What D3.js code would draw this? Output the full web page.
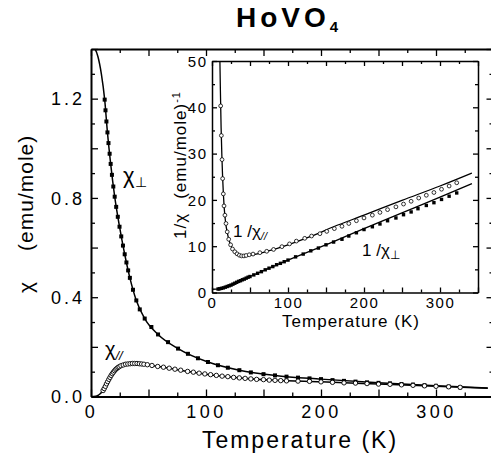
<!DOCTYPE html>
<html>
<head>
<meta charset="utf-8">
<script src="https://cdn.jsdelivr.net/npm/d3@7"></script>
<style>
  body { margin: 0; background: #fff; }
  svg { display: block; font-family: "Liberation Sans", Arial, sans-serif; }
</style>
</head>
<body>
<div id="container"></div>
<script>
/* DATA */
// chi_perp (filled squares), main panel
const perpT   = [11.9,12.6,13.4,14.3,15.2,16.2,17.1,18.2,19.4,20.6,21.9,23.3,24.8,26.3,27.8,29.3,30.8,32.3,33.8,36.5,39.4,42.4,46.7,52.5,58.3,67,75.7,84.3,93,101.7,110.4,119,129,139,150,160,170,180,190,200,210,220,230,240,250,260,270,280,290,300,311,321];
const perpChi = [1.196,1.153,1.108,1.064,1.021,0.978,0.937,0.893,0.846,0.805,0.764,0.724,0.684,0.645,0.608,0.573,0.540,0.508,0.478,0.430,0.387,0.351,0.314,0.280,0.250,0.219,0.193,0.172,0.154,0.139,0.126,0.116,0.106,0.097,0.090,0.085,0.080,0.076,0.073,0.070,0.066,0.063,0.060,0.057,0.055,0.053,0.050,0.048,0.045,0.043,0.040,0.037];
// fitted curve through chi_perp
const perpFitT   = [0,3,6,9,11.9,14.3,17.1,20.6,24.8,29.3,33.8,39.4,46.7,58.3,75.7,101.7,129,160,200,250,300,345];
const perpFitChi = [1.42,1.405,1.37,1.30,1.196,1.064,0.937,0.805,0.684,0.573,0.478,0.387,0.314,0.250,0.193,0.139,0.106,0.085,0.070,0.055,0.043,0.034];

// chi_par (open circles), main panel
const parT   = [10.5,11.5,12.5,13.5,14.5,15.5,16.5,17.5,18.5,19.5,20.5,21.5,22.5,23.5,24.5,26,28,30,32,34,36,38,40,42,44,46,49,53,58,63,68,73,78,84,89,94,99,104,109,114,119,124,129,134,139,144,150,155,160,165,170,180,190,200,210,220,230,240,250,260,270,280,290,300,311,321];
const parChi = [0.024,0.032,0.041,0.051,0.060,0.069,0.077,0.085,0.092,0.098,0.104,0.109,0.113,0.117,0.120,0.124,0.127,0.130,0.131,0.132,0.133,0.133,0.133,0.132,0.131,0.130,0.128,0.125,0.121,0.118,0.114,0.110,0.106,0.101,0.098,0.094,0.091,0.088,0.085,0.082,0.080,0.077,0.075,0.073,0.071,0.069,0.068,0.066,0.065,0.064,0.063,0.062,0.061,0.059,0.057,0.055,0.054,0.052,0.050,0.049,0.047,0.045,0.043,0.041,0.039,0.037];
const parFitT   = [0,4,6,8,10,12,14,16,18,20,22.5,25,30,35,40,50,60,80,100,130,160,200,250,300,345];
const parFitChi = [0,0.001,0.004,0.011,0.021,0.037,0.056,0.073,0.088,0.101,0.113,0.121,0.130,0.133,0.133,0.127,0.120,0.104,0.090,0.075,0.065,0.059,0.050,0.041,0.033];

// inset: 1/chi_par (open circles) and 1/chi_perp (filled squares)
const invParT   = [11.4,12.3,13.2,14,14.9,15.8,17,18.4,20,22,24.5,27,30,33,36,39,42,45,49,54,63,72,81,92,102,111,122,131,142,151,161,171,180,190,200,211,221,231,242,252,262,272,282,292,302,312,322];
const invParVal = [40.3,33.9,28.7,24.6,21.3,18.7,16.7,14.9,13.1,11.5,10.3,9.4,8.8,8.35,8.05,7.9,7.9,8.0,8.15,8.3,8.6,8.9,9.3,9.9,10.5,11.1,11.7,12.2,12.7,13.2,13.8,14.3,14.9,15.5,16.1,16.7,17.3,17.9,18.5,19.1,19.7,20.4,21.0,21.6,22.3,23.0,23.7];
const invParFitT   = [10.4,11,12,13,14,15,16,18,20,23,26,30,35,40,45,55,70,100,130,160,200,250,300,342];
const invParFitVal = [50,44,35.5,29.5,24.8,21.2,18.4,15.0,13.0,11.0,9.7,8.7,8.1,7.85,7.9,8.2,8.8,10.3,12.1,14.2,16.7,19.9,23.0,25.8];

const invPerpT   = [8,10,12.5,15,17.5,20,22.5,25,27.5,30,32.5,35,37.5,40,42.5,45,47.5,50,55,60,65,70,75,80,85,90,95,100,110,120,130,140,150,160,171,180,190,200,211,221,231,242,252,262,271,282,292,302,312,322];
const invPerpVal = [0.75,0.8,0.9,1.0,1.15,1.3,1.45,1.6,1.8,2.0,2.2,2.4,2.55,2.75,2.9,3.1,3.3,3.45,3.8,4.15,4.5,4.9,5.25,5.6,6.0,6.3,6.65,7.0,7.7,8.3,9.0,9.6,10.3,10.9,11.5,12.2,12.9,13.6,14.2,14.8,15.5,16.1,16.8,17.4,18.1,18.8,19.4,20.1,20.8,21.5];
const invPerpFitT   = [0,10,20,30,50,100,160,200,250,300,342];
const invPerpFitVal = [0.7,0.8,1.3,2.0,3.45,7.0,11.0,13.8,17.2,20.6,23.5];

// tick labels
const mainXLabels  = [0, 100, 200, 300];
const mainYLabels  = [0, 0.4, 0.8, 1.2];
const insetXLabels = [0, 100, 200, 300];
const insetYLabels = [0, 10, 20, 30, 40, 50];

/* LAYOUT */
const width = 491, height = 456;

const svg = d3.select("#container")
  .append("svg")
  .attr("width", width)
  .attr("height", height);

// main scales
const x = d3.scaleLinear().domain([0, 350]).range([91, 493.5]);
const y = d3.scaleLinear().domain([0, 1.4]).range([396.5, 49]);

// inset scales
const xi = d3.scaleLinear().domain([0, 350]).range([212, 478]);
const yi = d3.scaleLinear().domain([0, 50]).range([292.5, 61]);

const zip = (a, b) => a.map((d, i) => [d, b[i]]);

// clip paths
const defs = svg.append("defs");
defs.append("clipPath").attr("id", "mainClip")
  .append("rect").attr("x", x(0)).attr("y", y(1.4))
  .attr("width", x(350) - x(0)).attr("height", y(0) - y(1.4));
defs.append("clipPath").attr("id", "insetClip")
  .append("rect").attr("x", xi(0)).attr("y", yi(50))
  .attr("width", xi(350) - xi(0)).attr("height", yi(0) - yi(50));

// axis helper: inward ticks, majors longer, only some labelled
function drawAxis(g, axisFn, scale, vals, isMajor, majLen, minLen, dir, labels, fmt) {
  const ax = axisFn(scale).tickValues(vals).tickSizeOuter(0).tickSizeInner(0)
    .tickFormat(d => labels.some(l => Math.abs(l - d) < 1e-9) ? fmt(d) : "");
  g.call(ax);
  g.selectAll(".tick line")
    .attr(dir, d => (isMajor(d) ? majLen : minLen))
    .attr("stroke", "#000").attr("stroke-width", 1.3);
  g.select(".domain").attr("stroke", "#000");
  return g;
}

/* MAIN PANEL */
const mainXVals = d3.range(0, 15).map(i => i * 25);
const mainYVals = d3.range(0, 15).map(i => i / 10);
const xMaj = d => d % 50 === 0;
const yMaj = d => Math.round(d * 10) % 2 === 0;

const gxb = svg.append("g").attr("transform", `translate(0,${y(0)})`);
drawAxis(gxb, d3.axisBottom, x, mainXVals, xMaj, -7, -4, "y2", mainXLabels, d3.format("d"));
const gxt = svg.append("g").attr("transform", `translate(0,${y(1.4)})`);
drawAxis(gxt, d3.axisTop, x, mainXVals, xMaj, 7, 4, "y2", [], d => "");
const gyl = svg.append("g").attr("transform", `translate(${x(0)},0)`);
drawAxis(gyl, d3.axisLeft, y, mainYVals, yMaj, 7, 4, "x2", mainYLabels, d3.format(".1f"));
const gyr = svg.append("g").attr("transform", `translate(${x(350)},0)`);
drawAxis(gyr, d3.axisRight, y, mainYVals, yMaj, -7, -4, "x2", [], d => "");

[gxb, gxt, gyl, gyr].forEach(g => g.select(".domain").attr("stroke-width", 2));

gxb.selectAll(".tick text")
  .attr("y", 21.5).attr("dy", 0)
  .style("font-size", "18px").style("letter-spacing", "3.5px")
  .attr("fill", "#000");
gyl.selectAll(".tick text")
  .attr("x", -6).attr("dy", "0.35em")
  .style("font-size", "18px").style("letter-spacing", "3px")
  .attr("fill", "#000");

const lineMain = d3.line().x(d => x(d[0])).y(d => y(d[1])).curve(d3.curveMonotoneX);

const mainPlot = svg.append("g").attr("clip-path", "url(#mainClip)");
mainPlot.append("path")
  .datum(zip(perpFitT, perpFitChi))
  .attr("d", lineMain)
  .attr("fill", "none").attr("stroke", "#000").attr("stroke-width", 1.5);
mainPlot.append("path")
  .datum(zip(parFitT, parFitChi))
  .attr("d", lineMain)
  .attr("fill", "none").attr("stroke", "#000").attr("stroke-width", 1.5);

mainPlot.selectAll("rect.perp")
  .data(zip(perpT, perpChi))
  .join("rect")
  .attr("class", "perp")
  .attr("x", d => x(d[0]) - 2).attr("y", d => y(d[1]) - 2)
  .attr("width", 4).attr("height", 4)
  .attr("fill", "#000");
mainPlot.selectAll("circle.par")
  .data(zip(parT, parChi))
  .join("circle")
  .attr("class", "par")
  .attr("cx", d => x(d[0])).attr("cy", d => y(d[1]))
  .attr("r", 2.2)
  .attr("fill", "#fff").attr("stroke", "#000").attr("stroke-width", 0.9);

// curve labels
const lab1 = svg.append("text").attr("x", 123).attr("y", 183)
  .style("font-size", "22px").text("χ");
lab1.append("tspan").attr("dy", 4).style("font-size", "14px").text("⊥");
const lab2 = svg.append("text").attr("x", 105).attr("y", 356)
  .style("font-size", "20px").text("χ");
lab2.append("tspan").attr("dy", 4).style("font-size", "13px").style("font-style", "italic").text("//");

// axis titles
svg.append("text")
  .attr("x", 300).attr("y", 448)
  .attr("text-anchor", "middle")
  .style("font-size", "23px").style("letter-spacing", "2px")
  .text("Temperature (K)");
const ylab = svg.append("text")
  .attr("transform", "translate(33,293) rotate(-90)")
  .style("font-size", "21px").style("letter-spacing", "1px");
ylab.append("tspan").text("χ");
ylab.append("tspan").attr("dx", 30).text("(emu/mole)");

// title
const title = svg.append("text")
  .attr("x", 236).attr("y", 27)
  .style("font-size", "28px").style("font-weight", "bold").style("letter-spacing", "4px")
  .text("HoVO");
title.append("tspan").attr("dy", 5).style("font-size", "15px").text("4");

/* INSET */
svg.append("rect")
  .attr("x", xi(0)).attr("y", yi(50))
  .attr("width", xi(350) - xi(0)).attr("height", yi(0) - yi(50))
  .attr("fill", "#fff");

const inXVals = d3.range(0, 15).map(i => i * 25);
const inYVals = d3.range(0, 11).map(i => i * 5);
const inYMaj = d => d % 10 === 0;

const ixb = svg.append("g").attr("transform", `translate(0,${yi(0)})`);
drawAxis(ixb, d3.axisBottom, xi, inXVals, xMaj, -5, -3, "y2", insetXLabels, d3.format("d"));
const ixt = svg.append("g").attr("transform", `translate(0,${yi(50)})`);
drawAxis(ixt, d3.axisTop, xi, inXVals, xMaj, 5, 3, "y2", [], d => "");
const iyl = svg.append("g").attr("transform", `translate(${xi(0)},0)`);
drawAxis(iyl, d3.axisLeft, yi, inYVals, inYMaj, 5, 3, "x2", insetYLabels, d3.format("d"));
const iyr = svg.append("g").attr("transform", `translate(${xi(350)},0)`);
drawAxis(iyr, d3.axisRight, yi, inYVals, inYMaj, -5, -3, "x2", [], d => "");

[ixb, ixt, iyl, iyr].forEach(g => g.select(".domain").attr("stroke-width", 1.5));

ixb.selectAll(".tick text")
  .attr("y", 15.5).attr("dy", 0)
  .style("font-size", "15px").style("letter-spacing", "1.5px")
  .attr("fill", "#000");
iyl.selectAll(".tick text")
  .attr("x", -4.5).attr("dy", "0.35em")
  .style("font-size", "15px").style("letter-spacing", "1.5px")
  .attr("fill", "#000");

const lineInset = d3.line().x(d => xi(d[0])).y(d => yi(d[1])).curve(d3.curveMonotoneX);

const insetPlot = svg.append("g").attr("clip-path", "url(#insetClip)");
insetPlot.append("path")
  .datum(zip(invParFitT, invParFitVal))
  .attr("d", lineInset)
  .attr("fill", "none").attr("stroke", "#000").attr("stroke-width", 1.3);
insetPlot.append("path")
  .datum(zip(invPerpFitT, invPerpFitVal))
  .attr("d", lineInset)
  .attr("fill", "none").attr("stroke", "#000").attr("stroke-width", 1.3);

insetPlot.selectAll("rect.iperp")
  .data(zip(invPerpT, invPerpVal))
  .join("rect")
  .attr("class", "iperp")
  .attr("x", d => xi(d[0]) - 1.7).attr("y", d => yi(d[1]) - 1.7)
  .attr("width", 3.4).attr("height", 3.4)
  .attr("fill", "#000");
insetPlot.selectAll("circle.ipar")
  .data(zip(invParT, invParVal))
  .join("circle")
  .attr("class", "ipar")
  .attr("cx", d => xi(d[0])).attr("cy", d => yi(d[1]))
  .attr("r", 1.9)
  .attr("fill", "#fff").attr("stroke", "#000").attr("stroke-width", 0.8);

// inset curve labels
const ilab1 = svg.append("text").attr("x", 233).attr("y", 237)
  .style("font-size", "17px").text("1 /χ");
ilab1.append("tspan").attr("dy", 3).style("font-size", "11px").style("font-style", "italic").text("//");
const ilab2 = svg.append("text").attr("x", 362).attr("y", 256)
  .style("font-size", "17px").text("1 /χ");
ilab2.append("tspan").attr("dy", 3).style("font-size", "12px").text("⊥");

// inset axis titles
svg.append("text")
  .attr("x", 351).attr("y", 327)
  .attr("text-anchor", "middle")
  .style("font-size", "17px").style("letter-spacing", "1px")
  .text("Temperature (K)");
const iyt = svg.append("text")
  .attr("transform", "translate(186,165) rotate(-90)")
  .attr("text-anchor", "middle")
  .style("font-size", "17px").style("letter-spacing", "1px");
iyt.append("tspan").text("1/χ");
iyt.append("tspan").attr("dx", 14).text("(emu/mole)");
iyt.append("tspan").attr("dy", -6).style("font-size", "11px").text("-1");
</script>
</body>
</html>
